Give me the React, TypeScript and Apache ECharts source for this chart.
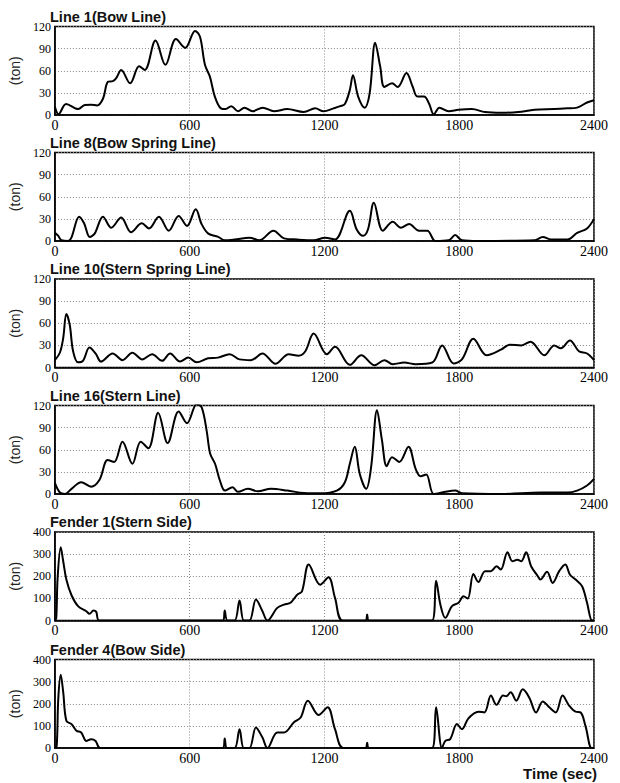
import React, { useEffect, useRef } from "react";
import * as echarts from "echarts";

const panelTitles = [
  "Line 1(Bow Line)",
  "Line 8(Bow Spring Line)",
  "Line 10(Stern Spring Line)",
  "Line 16(Stern Line)",
  "Fender 1(Stern Side)",
  "Fender 4(Bow Side)",
];

const xTicks = [0, 600, 1200, 1800, 2400];
const lineYMax = 120;
const lineYStep = 30;
const fenderYMax = 400;
const fenderYStep = 100;

const line1 = [[0,11],[16,1],[50,15],[104,8],[133,13.6],[160,14],[188,13],[214,22],[236,45],[258,46],[273,50],[295,61],[335,43],[375,66],[400,61],[448,101],[492,68],[539,103],[580,91],[624,114],[646,106],[668,68],[690,52],[712,25],[739,9],[760,8],[785,12],[815,5],[844,10],[880,5],[925,10],[976,5],[1034,8],[1108,4],[1159,9],[1196,5],[1240,9],[1270,12],[1291,15],[1313,34],[1327,54],[1350,25],[1379,10],[1401,29],[1426,98],[1448,66],[1467,38],[1501,43],[1526,38],[1565,57],[1592,39],[1614,25],[1643,25],[1665,16],[1687,1],[1712,10],[1753,5],[1797,7],[1856,8],[1915,4],[1988,3],[2062,4],[2135,7],[2223,8],[2281,9],[2325,10],[2369,17],[2400,20]];

const line8 = [[0,11],[15,7],[29,1],[59,0],[74,5],[108,33],[130,24],[155,5.5],[177,10],[214,33],[251,18],[295,32],[339,12],[387,24],[419,17],[463,33],[507,14],[551,34],[588,20.5],[627,43],[653,23],[683,10],[727,5.5],[756,1],[800,2],[866,4.5],[910,1],[973,14],[1020,3.6],[1079,2],[1152,1],[1203,4.5],[1247,2],[1313,41],[1343,16],[1372,7],[1394,16],[1420,52],[1460,14],[1504,26],[1540,18],[1577,23],[1621,14],[1658,14],[1694,0],[1753,1],[1782,8],[1812,1],[1885,0],[2135,1],[2172,5.5],[2208,2],[2281,2],[2325,11],[2369,17],[2400,30]];

const line10 = [[0,10],[22,20],[37,40],[51,72.5],[66,58],[81,22],[103,7],[125,9],[154,27],[183,18],[205,8],[257,19],[301,10],[345,20],[389,11],[433,18],[477,9],[513,19],[557,8],[594,13.4],[631,7],[682,12.5],[726,13.4],[778,18],[822,11],[873,10],[924,19],[982,5],[1041,18],[1085,16],[1115,22],[1152,46],[1211,18],[1247,28],[1313,3.6],[1364,16.6],[1423,3],[1467,10],[1504,4.5],[1555,6.7],[1606,4.5],[1680,6.7],[1724,30],[1775,5.4],[1812,11],[1863,39],[1922,16.6],[1988,24.6],[2025,31],[2076,30],[2117,35],[2179,16.6],[2223,30],[2252,26],[2293,36.7],[2333,22],[2369,19],[2400,10]];

const line16 = [[0,15],[22,2],[44,0],[74,7],[117,16],[161,10],[198,19],[235,46],[264,43.5],[301,71],[345,41],[382,71],[416,62],[460,110],[502,69],[551,112],[588,96],[632,122],[654,117],[676,85],[691,55],[713,41],[735,18],[757,4.6],[791,9],[815,3],[859,7],[903,3.7],[962,7],[1035,4.6],[1109,1.4],[1182,1],[1255,4.6],[1291,16],[1313,41],[1335,64],[1357,27.5],[1386,7],[1408,37],[1434,113.6],[1456,73],[1477,37.6],[1501,50],[1533,43.5],[1574,64],[1606,34],[1628,24],[1653,26.5],[1687,0],[1738,3],[1782,4.6],[1812,1],[1988,0],[2164,2],[2281,2],[2325,4.6],[2369,11.5],[2400,20.6]];

const fender1 = [[0,0],[6,10],[12,190],[26,331],[37,268],[51,185],[74,114],[103,65],[140,42],[154,30],[172,45],[184,39],[198,0],[749,0],[756,45],[768,0],[800,0],[822,90],[841,0],[866,0],[895,95],[924,42],[946,0],[990,57],[1020,72],[1049,80],[1079,117],[1100,132],[1130,253],[1181,162],[1218,196],[1247,102],[1281,0],[1384,0],[1390,27],[1398,0],[1679,0],[1697,180],[1716,72],[1738,12],[1768,65],[1797,80],[1819,110],[1838,99],[1863,210],[1885,174],[1915,223],[1941,223],[1966,245],[1985,230],[2015,308],[2037,268],[2059,275],[2076,268],[2098,308],[2120,245],[2150,200],[2161,185],[2191,220],[2216,170],[2245,223],[2272,253],[2293,207],[2318,185],[2347,155],[2369,80],[2391,0],[2400,0]];

const fender4 = [[0,0],[8,9],[15,222],[26,331],[37,252],[51,123],[74,108],[96,78],[117,70],[140,32],[162,40],[181,32],[202,0],[749,0],[756,43],[766,0],[800,0],[822,85],[841,0],[866,0],[895,93],[924,47],[946,0],[990,70],[1020,70],[1064,116],[1094,138],[1126,214],[1174,149],[1214,184],[1247,85],[1284,0],[1384,0],[1390,24],[1398,0],[1679,0],[1697,184],[1723,0],[1738,32],[1760,40],[1790,108],[1812,85],[1841,134],[1885,164],[1912,161],[1941,237],[1966,195],[1995,237],[2010,234],[2029,252],[2054,214],[2083,265],[2113,225],[2142,161],[2172,210],[2201,184],[2230,161],[2260,237],[2289,192],[2318,164],[2340,161],[2362,100],[2389,0],[2400,0]];

const seriesData = [line1, line8, line10, line16, fender1, fender4];
const yMaxes = [lineYMax, lineYMax, lineYMax, lineYMax, fenderYMax, fenderYMax];
const ySteps = [lineYStep, lineYStep, lineYStep, lineYStep, fenderYStep, fenderYStep];

const gridTops = [26.5, 152.5, 279, 405.5, 532, 659.5];
const gridH = 88.5;

export default function App() {
  const ref = useRef<HTMLDivElement>(null);
  useEffect(() => {
    if (!ref.current) return;
    const chart = echarts.init(ref.current, undefined, { renderer: "svg" });
    const grids: any[] = [];
    const xAxes: any[] = [];
    const yAxes: any[] = [];
    const series: any[] = [];
    const titles: any[] = [];
    const gridLine = { show: true, lineStyle: { color: "#8a8a8a", type: [1, 2], width: 1 } };
    for (let i = 0; i < 6; i++) {
      grids.push({
        left: 48,
        right: 26,
        top: gridTops[i],
        height: gridH,
        show: true,
        borderColor: "#000",
        borderWidth: 1.5,
        backgroundColor: "transparent",
      });
      titles.push({
        text: panelTitles[i],
        left: 50,
        top: gridTops[i] - 17.5,
        padding: 0,
        textStyle: {
          fontFamily: "Liberation Sans",
          fontWeight: "bold",
          fontSize: 14.5,
          color: "#111",
        },
      });
      xAxes.push({
        type: "value",
        gridIndex: i,
        min: xTicks[0],
        max: xTicks[xTicks.length - 1],
        interval: xTicks[1] - xTicks[0],
        axisLine: { show: true, lineStyle: { color: "#000", width: 1.5 } },
        axisTick: { show: false },
        splitLine: gridLine,
        axisLabel: {
          color: "#000",
          fontFamily: "Liberation Serif",
          fontSize: 14,
          margin: 3,
          showMinLabel: true,
          showMaxLabel: true,
          formatter: (v: number) => String(v),
        },
      });
      yAxes.push({
        type: "value",
        gridIndex: i,
        min: 0,
        max: yMaxes[i],
        interval: ySteps[i],
        name: "(ton)",
        nameLocation: "middle",
        nameGap: 16,
        nameTextStyle: { fontFamily: "Liberation Sans", fontSize: 14, color: "#222" },
        axisLine: { show: true, lineStyle: { color: "#000", width: 1.5 } },
        axisTick: { show: false },
        splitLine: gridLine,
        axisLabel: {
          color: "#000",
          fontFamily: "Liberation Serif",
          fontSize: 12,
          margin: 4,
          formatter: (v: number) => String(v),
        },
      });
      series.push({
        type: "line",
        xAxisIndex: i,
        yAxisIndex: i,
        data: seriesData[i],
        smooth: 0.35,
        symbol: "none",
        clip: true,
        lineStyle: { color: "#000", width: 2 },
      });
    }
    chart.setOption({
      animation: false,
      backgroundColor: "#fff",
      title: titles,
      grid: grids,
      xAxis: xAxes,
      yAxis: yAxes,
      series,
      graphic: [
        {
          type: "text",
          right: 23,
          top: 766,
          style: {
            text: "Time (sec)",
            fontFamily: "Liberation Sans",
            fontWeight: "bold",
            fontSize: 15,
            fill: "#111",
          },
        },
      ],
    });
    return () => chart.dispose();
  }, []);
  return (
    <div
      ref={ref}
      style={{ position: "fixed", left: 0, top: 0, width: 620, height: 783 }}
    />
  );
}
